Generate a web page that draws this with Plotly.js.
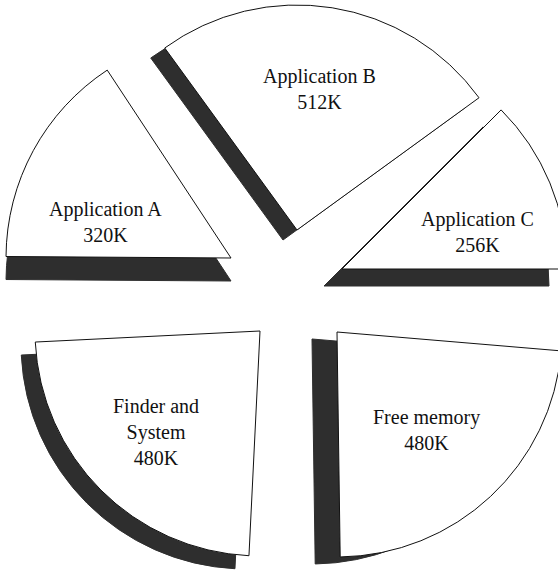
<!DOCTYPE html>
<html>
<head>
<meta charset="utf-8">
<script src="https://cdn.plot.ly/plotly-3.0.1.min.js"></script>
<style>
  html, body { margin: 0; padding: 0; overflow: hidden; background: #fff; }
  #chart { width: 640px; height: 640px; }
</style>
</head>
<body>
<div id="chart"></div>
<script>
// memory use in K, slices going counterclockwise from the right
var labels = ['Application C', 'Application B', 'Application A', 'Finder and<br>System', 'Free memory'];
var sizesK = [256, 512, 320, 480, 480];

// where each exploded slice sits (page px), which way it points, and its drop shadow
var tipX = [342, 297, 231, 260, 337];
var tipY = [269, 230, 258, 331, 332];
var midAngle = [22.5, 81, 151.5, 225, 313];
var shadowDx = [-18, -14, 0, -14, -25];
var shadowDy = [17, 10, 23, 13, 7];
// label block centre, relative to the slice tip
var labelDx = [135, 22, -126, -104, 89];
var labelDy = [-37, -141, -36, 101, 98];

var W = 640, H = 640, R = 225;
var total = sizesK.reduce(function(a, b) { return a + b; }, 0);
var clear = 'rgba(0,0,0,0)';

function sliceTrace(i, dx, dy, fill, edge) {
  var cx = tipX[i] + dx, cy = tipY[i] + dy;
  var sweep = sizesK[i] / total * 360;
  return {
    type: 'pie',
    values: [sizesK[i], total - sizesK[i]],
    textinfo: 'none',
    sort: false,
    direction: 'counterclockwise',
    // counterclockwise pies end their first slice at the rotation angle
    rotation: 90 - (midAngle[i] + sweep / 2),
    marker: {colors: [fill, clear], line: {color: [edge, clear], width: 1}},
    domain: {x: [(cx - R) / W, (cx + R) / W], y: [1 - (cy + R) / H, 1 - (cy - R) / H]},
    hoverinfo: 'skip',
    showlegend: false
  };
}

var data = [];
// shadows first so the white faces sit on top
for (var i = 0; i < sizesK.length; i++) {
  data.push(sliceTrace(i, shadowDx[i], shadowDy[i], '#2e2e2e', '#2e2e2e'));
}
for (var j = 0; j < sizesK.length; j++) {
  data.push(sliceTrace(j, 0, 0, '#ffffff', '#111111'));
}

var notes = [];
for (var k = 0; k < sizesK.length; k++) {
  notes.push({
    xref: 'paper', yref: 'paper',
    x: (tipX[k] + labelDx[k]) / W,
    y: 1 - (tipY[k] + labelDy[k]) / H,
    xanchor: 'center', yanchor: 'middle',
    text: labels[k] + '<br>' + sizesK[k] + 'K',
    showarrow: false,
    align: 'center',
    font: {family: 'Liberation Serif, serif', size: 20, color: '#111'}
  });
}

var layout = {
  width: W,
  height: H,
  margin: {l: 0, r: 0, t: 0, b: 0},
  paper_bgcolor: '#ffffff',
  plot_bgcolor: '#ffffff',
  showlegend: false,
  annotations: notes
};

Plotly.newPlot('chart', data, layout, {staticPlot: true, displayModeBar: false});
</script>
</body>
</html>
